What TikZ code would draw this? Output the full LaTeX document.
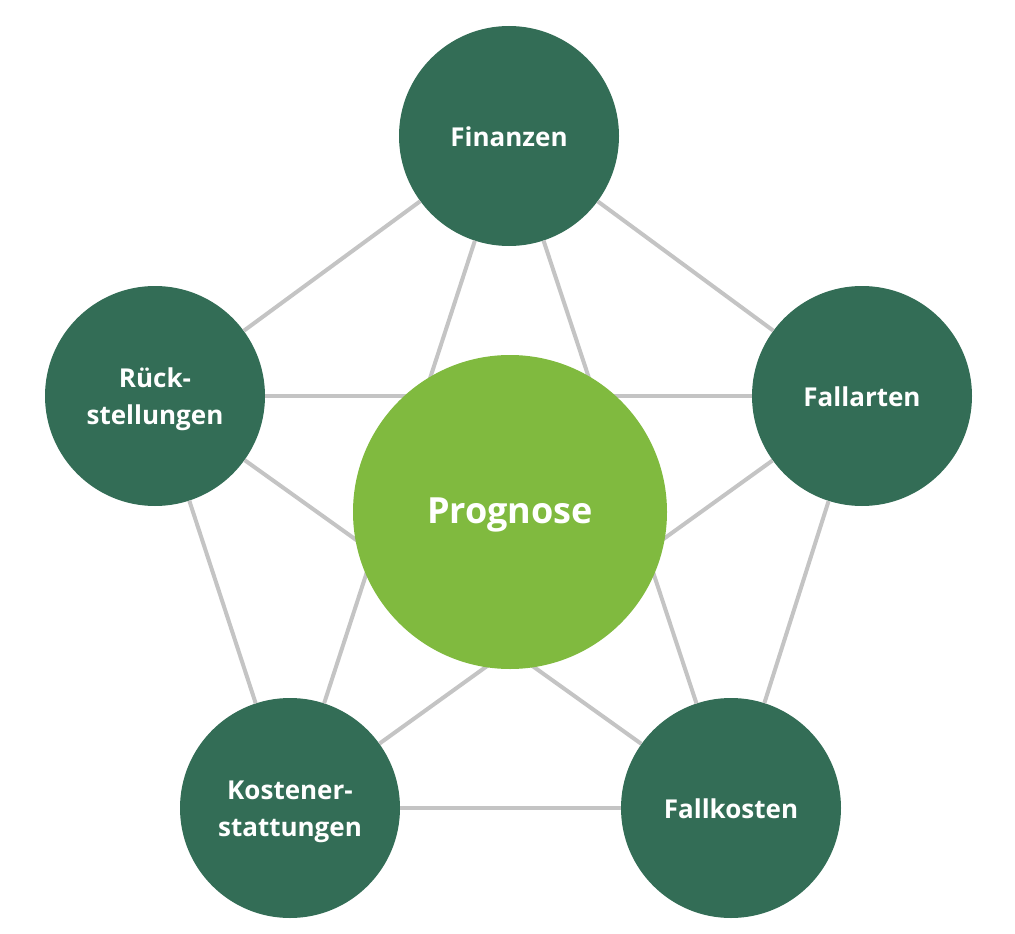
\documentclass[tikz,border=0pt]{standalone}
\usepackage{fontspec}
\setmainfont{Open Sans}
\definecolor{darkgreen}{HTML}{336D56}
\definecolor{lightgreen}{HTML}{80BA3F}
\definecolor{linegray}{HTML}{C4C4C4}
\newcommand\lowtext[1]{\raisebox{0pt}[\dimexpr\height+6pt\relax][\depth]{\begin{tabular}{@{}c@{}}#1\end{tabular}}}
\begin{document}
\begin{tikzpicture}[x=1pt,y=-1pt,
  outer/.style={circle, fill=darkgreen, minimum size=220pt, inner sep=0pt, text=white, align=center,
    font=\fontsize{26}{37}\selectfont\bfseries},
  center/.style={circle, fill=lightgreen, minimum size=314pt, inner sep=0pt, text=white,
    font=\fontsize{36}{44}\selectfont\bfseries},
  link/.style={draw=linegray, line width=4pt}]
\useasboundingbox (0,0) rectangle (1015,934);
\node[outer] (fin) at (509,136) {\lowtext{Finanzen}};
\node[outer] (fal) at (862,396) {\lowtext{Fallarten}};
\node[outer] (fko) at (731,808) {\lowtext{Fallkosten}};
\node[outer] (kos) at (290,808) {\lowtext{Kostener-\\stattungen}};
\node[outer] (rue) at (155,396) {\lowtext{Rück-\\stellungen}};
\path[link] (fin) -- (fal);
\path[link] (fal) -- (fko);
\path[link] (fko) -- (kos);
\path[link] (kos) -- (rue);
\path[link] (rue) -- (fin);
\path[link] (fin) -- (kos);
\path[link] (fin) -- (fko);
\path[link] (rue) -- (fal);
\path[link] (rue) -- (fko);
\path[link] (fal) -- (kos);
\node[center] (pro) at (510,512) {\lowtext{Prognose}};
\end{tikzpicture}
\end{document}
